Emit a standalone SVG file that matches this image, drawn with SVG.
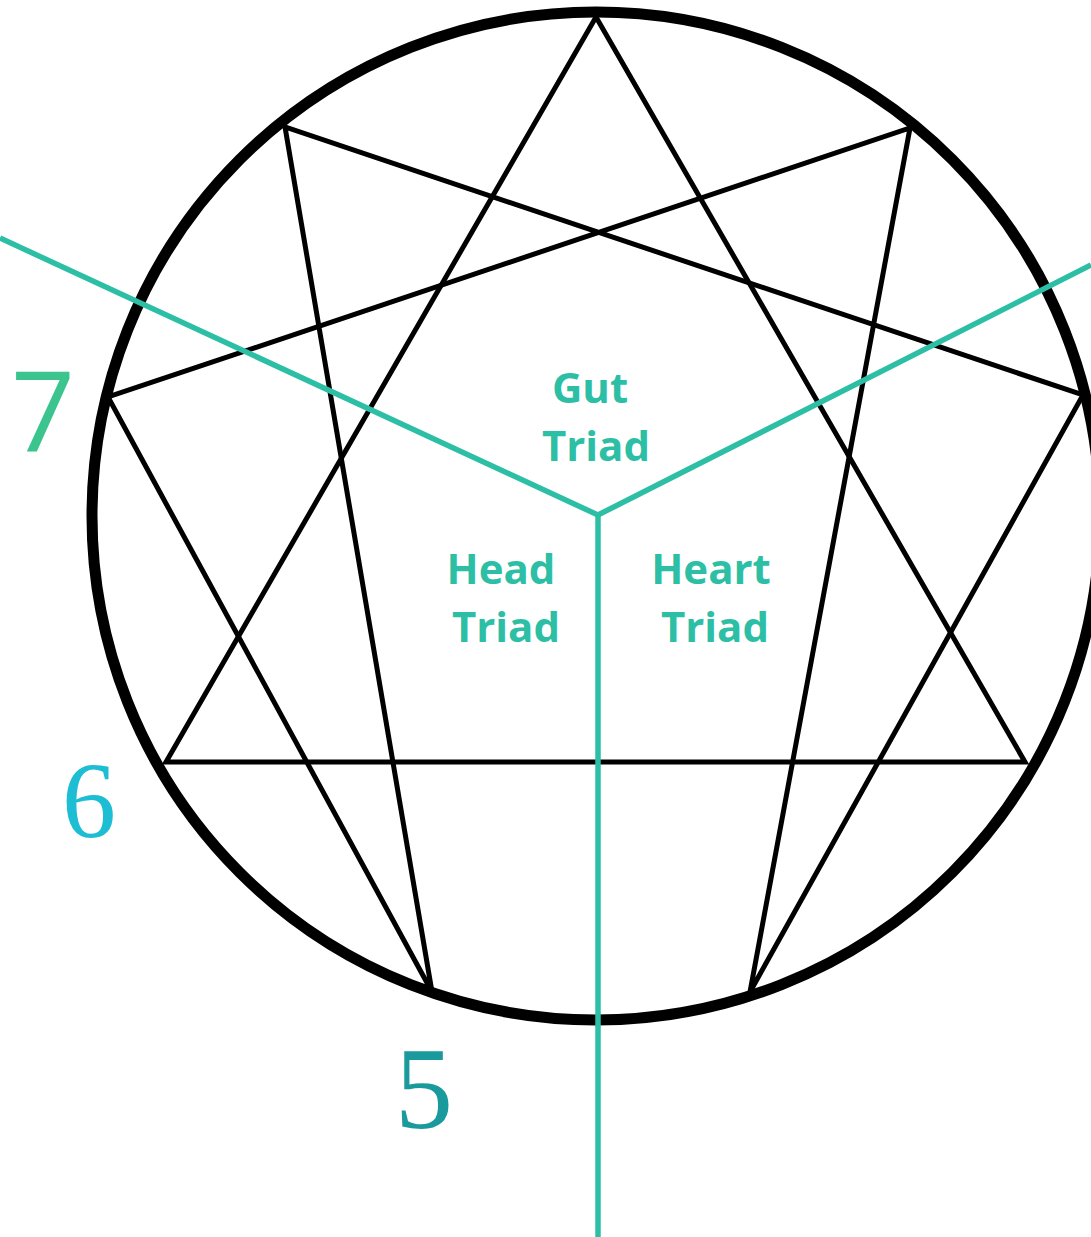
<svg xmlns="http://www.w3.org/2000/svg" width="1091" height="1237" viewBox="0 0 1091 1237">
<style>
.blk{fill:none;stroke:#000;stroke-width:5;stroke-linejoin:miter}
.teal{fill:none;stroke:#2dbfa5;stroke-width:5.5}
.tri{font-family:"Open Sans","DejaVu Sans",sans-serif;font-weight:bold;font-size:42px;fill:#2dbfa5;text-anchor:middle}
</style>
<rect width="1091" height="1237" fill="#fff"/>
<g id="circle"><circle cx="596" cy="516" r="504" fill="none" stroke="#000" stroke-width="11"/></g>
<g id="connectors">
<polygon class="blk" points="596,17 1025,762 166,762"/>
<polygon class="blk" points="910,128 750,992 1083,395 285,127 432,992 108,397"/>
<polyline class="teal" points="0,238 598,515 1091,265"/>
<line class="teal" x1="598" y1="513" x2="598" y2="1237"/>
</g>
<g id="gut"><text class="tri" x="590" y="403">Gut</text><text class="tri" x="596" y="461">Triad</text></g>
<g id="head"><text class="tri" x="501" y="584">Head</text><text class="tri" x="506" y="642">Triad</text></g>
<g id="heart"><text class="tri" x="711" y="584">Heart</text><text class="tri" x="715" y="642">Triad</text></g>
<g id="n7"><text x="43" y="452" font-family="Open Sans, sans-serif" font-weight="400" font-size="112" fill="#3cc48f" text-anchor="middle">7</text></g>
<g id="n6"><text x="89" y="837" font-family="Liberation Serif, serif" font-size="108" fill="#1dbdd4" text-anchor="middle">6</text></g>
<g id="n5"><text x="424" y="1128" font-family="Liberation Serif, serif" font-size="116" fill="#1a9a9c" text-anchor="middle">5</text></g>
</svg>
